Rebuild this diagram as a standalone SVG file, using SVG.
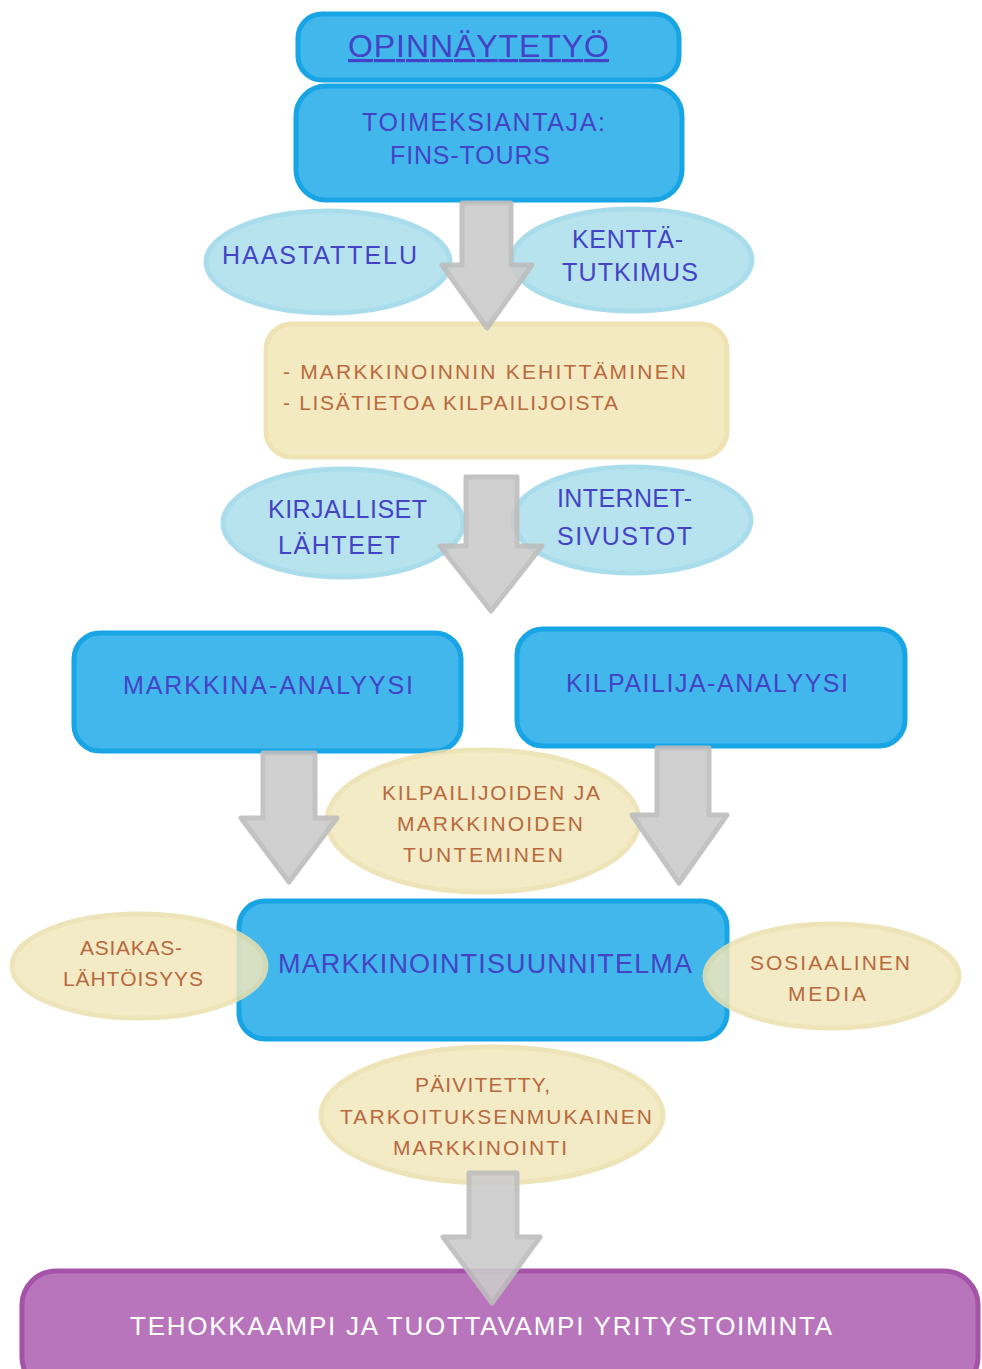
<svg xmlns="http://www.w3.org/2000/svg" width="982" height="1369" viewBox="0 0 982 1369">
<style>
.bbox{fill:#42b7ec;stroke:#17a5e6;stroke-width:5}
.yb{fill:#f4eac2;stroke:#efe3b4;stroke-width:5}
.bell{fill:#b3e2ee;stroke:#a6dceb;stroke-width:5;opacity:0.95}
.yell{fill:#f2e8bd;stroke:#ece0ae;stroke-width:5;opacity:0.85}
.pbox{fill:#b975bc;stroke:#a553a9;stroke-width:5}
.arr{fill:#cbcbcb;stroke:#bdbdbd;stroke-width:5;opacity:0.9;stroke-linejoin:round}
text{font-family:"Liberation Sans","DejaVu Sans",sans-serif}
.tb{fill:#4443c6}
.tr{fill:#b8693e}
.tw{fill:#ffffff}
</style>
<g id="opinnaytetyo">
<rect class="bbox" x="298" y="14" width="381" height="66" rx="24"/>
<text class="tb" x="348" y="57" font-size="32" textLength="261" lengthAdjust="spacing" text-decoration="underline">OPINNÄYTETYÖ</text>
</g>
<g id="toimeksiantaja">
<rect class="bbox" x="296" y="86" width="386" height="114" rx="30"/>
<text class="tb" x="362" y="131" font-size="25" textLength="243" lengthAdjust="spacing">TOIMEKSIANTAJA:</text>
<text class="tb" x="390" y="164" font-size="25" textLength="160" lengthAdjust="spacing">FINS-TOURS</text>
</g>
<g id="haastattelu">
<ellipse class="bell" cx="328" cy="262" rx="122" ry="51"/>
<text class="tb" x="222" y="264" font-size="25" textLength="195" lengthAdjust="spacing">HAASTATTELU</text>
</g>
<g id="kenttatutkimus">
<ellipse class="bell" cx="632" cy="260" rx="120" ry="51"/>
<text class="tb" x="572" y="248" font-size="25" textLength="111" lengthAdjust="spacing">KENTTÄ-</text>
<text class="tb" x="562" y="281" font-size="25" textLength="136" lengthAdjust="spacing">TUTKIMUS</text>
</g>
<g id="kehittaminen">
<rect class="yb" x="266" y="324" width="461" height="133" rx="26"/>
<text class="tr" x="283" y="379" font-size="21" textLength="403" lengthAdjust="spacing">- MARKKINOINNIN KEHITTÄMINEN</text>
<text class="tr" x="283" y="410" font-size="21" textLength="335" lengthAdjust="spacing">- LISÄTIETOA KILPAILIJOISTA</text>
</g>
<g id="kirjalliset">
<ellipse class="bell" cx="343" cy="523" rx="120" ry="54"/>
<text class="tb" x="268" y="518" font-size="25" textLength="159" lengthAdjust="spacing">KIRJALLISET</text>
<text class="tb" x="278" y="554" font-size="25" textLength="122" lengthAdjust="spacing">LÄHTEET</text>
</g>
<g id="internet">
<ellipse class="bell" cx="632" cy="520" rx="119" ry="53"/>
<text class="tb" x="557" y="507" font-size="25" textLength="135" lengthAdjust="spacing">INTERNET-</text>
<text class="tb" x="557" y="545" font-size="25" textLength="135" lengthAdjust="spacing">SIVUSTOT</text>
</g>
<g id="markkina">
<rect class="bbox" x="74" y="633" width="387" height="118" rx="26"/>
<text class="tb" x="123" y="694" font-size="25" textLength="290" lengthAdjust="spacing">MARKKINA-ANALYYSI</text>
</g>
<g id="kilpailija">
<rect class="bbox" x="517" y="629" width="388" height="117" rx="26"/>
<text class="tb" x="566" y="692" font-size="25" textLength="282" lengthAdjust="spacing">KILPAILIJA-ANALYYSI</text>
</g>
<g id="markkinointisuunnitelma">
<rect class="bbox" x="239" y="901" width="488" height="138" rx="26"/>
<text class="tb" x="278" y="973" font-size="27" textLength="414" lengthAdjust="spacing">MARKKINOINTISUUNNITELMA</text>
</g>
<g id="asiakas">
<ellipse class="yell" cx="139" cy="966" rx="127" ry="52"/>
<text class="tr" x="80" y="955" font-size="21" textLength="102" lengthAdjust="spacing">ASIAKAS-</text>
<text class="tr" x="63" y="986" font-size="21" textLength="140" lengthAdjust="spacing">LÄHTÖISYYS</text>
</g>
<g id="sosiaalinen">
<ellipse class="yell" cx="832" cy="976" rx="127" ry="52"/>
<text class="tr" x="750" y="970" font-size="21" textLength="160" lengthAdjust="spacing">SOSIAALINEN</text>
<text class="tr" x="788" y="1001" font-size="21" textLength="78" lengthAdjust="spacing">MEDIA</text>
</g>
<g id="kilpailijoiden">
<ellipse class="yell" cx="483" cy="821" rx="156" ry="71"/>
<text class="tr" x="382" y="800" font-size="21" textLength="218" lengthAdjust="spacing">KILPAILIJOIDEN JA</text>
<text class="tr" x="397" y="831" font-size="21" textLength="186" lengthAdjust="spacing">MARKKINOIDEN</text>
<text class="tr" x="403" y="862" font-size="21" textLength="160" lengthAdjust="spacing">TUNTEMINEN</text>
</g>
<g id="paivitetty">
<ellipse class="yell" cx="492" cy="1115" rx="171" ry="68"/>
<text class="tr" x="415" y="1092" font-size="21" textLength="135" lengthAdjust="spacing">PÄIVITETTY,</text>
<text class="tr" x="340" y="1124" font-size="21" textLength="312" lengthAdjust="spacing">TARKOITUKSENMUKAINEN</text>
<text class="tr" x="393" y="1155" font-size="21" textLength="174" lengthAdjust="spacing">MARKKINOINTI</text>
</g>
<g id="tehokkaampi">
<rect class="pbox" x="22" y="1271" width="956" height="120" rx="34"/>
<text class="tw" x="130" y="1335" font-size="26" textLength="702" lengthAdjust="spacing">TEHOKKAAMPI JA TUOTTAVAMPI YRITYSTOIMINTA</text>
</g>
<g id="connectors">
<path class="arr" d="M462 203 H511 V265 H532 L487 328 L442 265 H462 Z"/>
<path class="arr" d="M466 477 H517 V546 H542 L491 611 L440 546 H466 Z"/>
<path class="arr" d="M263 753 H315 V818 H337 L289 882 L241 818 H263 Z"/>
<path class="arr" d="M657 748 H709 V815 H727 L679 883 L632 815 H657 Z"/>
<path class="arr" d="M469 1173 H517 V1237 H540 L492 1303 L443 1237 H469 Z"/>
</g>
</svg>
